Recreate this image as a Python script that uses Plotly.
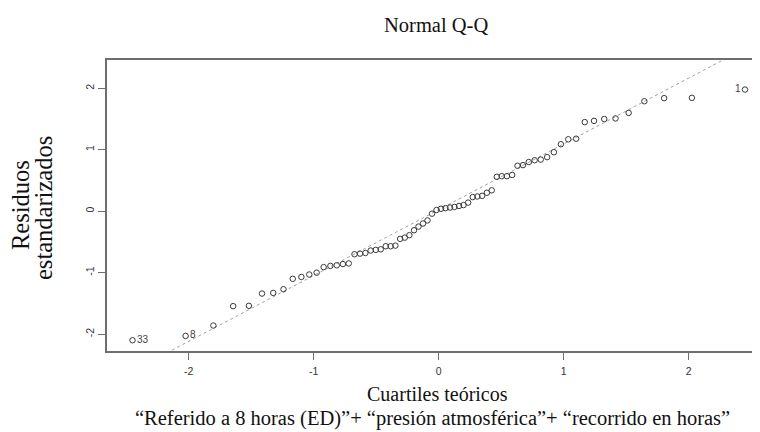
import numpy as np
import plotly.graph_objects as go

# Theoretical quantiles (x) and standardized residuals (y)
theo_q = [-2.45, -2.025, -1.803, -1.645, -1.519, -1.414, -1.324, -1.242, -1.168, -1.099,
          -1.036, -0.977, -0.921, -0.867, -0.816, -0.767, -0.720, -0.674, -0.630, -0.587,
          -0.545, -0.504, -0.464, -0.424, -0.385, -0.347, -0.309, -0.272, -0.235, -0.198,
          -0.162, -0.126, -0.090, -0.054, -0.018, 0.018, 0.054, 0.090, 0.126, 0.162,
          0.198, 0.235, 0.272, 0.309, 0.347, 0.385, 0.424, 0.464, 0.504, 0.545,
          0.587, 0.630, 0.674, 0.720, 0.767, 0.816, 0.867, 0.921, 0.977, 1.036,
          1.099, 1.168, 1.242, 1.324, 1.414, 1.519, 1.645, 1.803, 2.025, 2.45]
resid = [-2.10, -2.03, -1.86, -1.545, -1.54, -1.34, -1.33, -1.27, -1.10, -1.07,
         -1.03, -1.00, -0.91, -0.89, -0.88, -0.86, -0.85, -0.70, -0.69, -0.68,
         -0.64, -0.63, -0.62, -0.57, -0.57, -0.56, -0.45, -0.43, -0.39, -0.31,
         -0.25, -0.20, -0.15, -0.04, 0.02, 0.04, 0.05, 0.06, 0.07, 0.085,
         0.10, 0.14, 0.23, 0.24, 0.25, 0.30, 0.34, 0.56, 0.57, 0.57,
         0.59, 0.74, 0.75, 0.80, 0.83, 0.84, 0.88, 0.96, 1.09, 1.17,
         1.18, 1.45, 1.47, 1.50, 1.51, 1.60, 1.79, 1.84, 1.845, 1.98]
label_idx = [0, 1, 69]
label_text = ["33", "8", "1"]
x_ticks = [-2, -1, 0, 1, 2]
y_ticks = [-2, -1, 0, 1, 2]

title_text = "Normal Q-Q"
xtitle_text = "Cuartiles teóricos"
ytitle_lines = ["Residuos", "estandarizados"]
caption_text = "“Referido a 8 horas (ED)”+ “presión atmosférica”+ “recorrido en horas”"

SERIF = "Liberation Serif, Times New Roman, serif"
SANS = "Liberation Sans, Arial, sans-serif"
GRAY = "#6e6e6e"

x_range = [-2.654, 2.570]
y_range = [-2.275, 2.461]

# qqline through the quartiles
y_arr = np.array(resid)
q1, q3 = np.quantile(y_arr, [0.25, 0.75])
zq = 0.6744898
slope = (q3 - q1) / (2 * zq)
intercept = (q1 + q3) / 2
lx = np.array([x_range[0] - 0.5, x_range[1] + 0.5])
ly = intercept + slope * lx

pt_text = [""] * len(resid)
pt_pos = ["middle right"] * len(resid)
for i, t in zip(label_idx, label_text):
    pt_text[i] = t
    pt_pos[i] = "middle right" if theo_q[i] < 0 else "middle left"

fig = go.Figure()
fig.add_trace(go.Scatter(x=lx, y=ly, mode="lines",
                         line=dict(color="#a0a0a0", width=1, dash="dot"),
                         hoverinfo="skip", showlegend=False))
fig.add_trace(go.Scatter(x=theo_q, y=resid, mode="markers+text",
                         text=pt_text, textposition=pt_pos,
                         textfont=dict(family=SANS, size=10, color="#444444"),
                         marker=dict(symbol="circle-open", size=5.5,
                                     color="#3a3a3a", line=dict(width=1, color="#3a3a3a")),
                         cliponaxis=False, showlegend=False))

# page body has an 8px offset in the browser window
OFF = 8
W, H = 760 - OFF, 432 - OFF
L = 107 - OFF
T = 60 - OFF
bottom = 351 - OFF
B = H - bottom
pw = W - L
ph = bottom - T

def px_x(p):
    return (p - OFF - L) / pw

def px_y(p):
    return (bottom - (p - OFF)) / ph

annotations = [
    dict(text=title_text, x=px_x(436), y=px_y(25), xref="paper", yref="paper",
         showarrow=False, xanchor="center", yanchor="middle",
         font=dict(family=SERIF, size=20.5, color="#111111")),
    dict(text=xtitle_text, x=px_x(437), y=px_y(394), xref="paper", yref="paper",
         showarrow=False, xanchor="center", yanchor="middle",
         font=dict(family=SERIF, size=20, color="#111111")),
    dict(text=caption_text, x=px_x(432), y=px_y(418), xref="paper", yref="paper",
         showarrow=False, xanchor="center", yanchor="middle",
         font=dict(family=SERIF, size=20.5, color="#111111")),
    dict(text=ytitle_lines[0], x=px_x(20), y=px_y(205), xref="paper", yref="paper",
         showarrow=False, xanchor="center", yanchor="middle", textangle=-90,
         font=dict(family=SERIF, size=24.5, color="#111111")),
    dict(text=ytitle_lines[1], x=px_x(43), y=px_y(208), xref="paper", yref="paper",
         showarrow=False, xanchor="center", yanchor="middle", textangle=-90,
         font=dict(family=SERIF, size=24.5, color="#111111")),
]

fig.update_layout(
    width=W, height=H,
    margin=dict(l=L, r=0, t=T, b=B, pad=0),
    paper_bgcolor="white", plot_bgcolor="white",
    showlegend=False,
    annotations=annotations,
    xaxis=dict(range=x_range, tickvals=x_ticks, ticktext=[str(v) for v in x_ticks],
               showgrid=False, zeroline=False, showline=True, mirror=True,
               linecolor=GRAY, linewidth=1.6, ticks="outside", ticklen=7,
               tickwidth=1, tickcolor=GRAY, ticklabelstandoff=3,
               tickfont=dict(family=SANS, size=10.5, color="#333333")),
    yaxis=dict(range=y_range, tickvals=y_ticks, ticktext=[str(v) for v in y_ticks],
               showgrid=False, zeroline=False, showline=True, mirror=False,
               linecolor=GRAY, linewidth=1.6, ticks="outside", ticklen=7,
               tickwidth=1, tickcolor=GRAY, tickangle=-90,
               tickfont=dict(family=SANS, size=10.5, color="#333333")),
)

fig.write_html("out.html")
